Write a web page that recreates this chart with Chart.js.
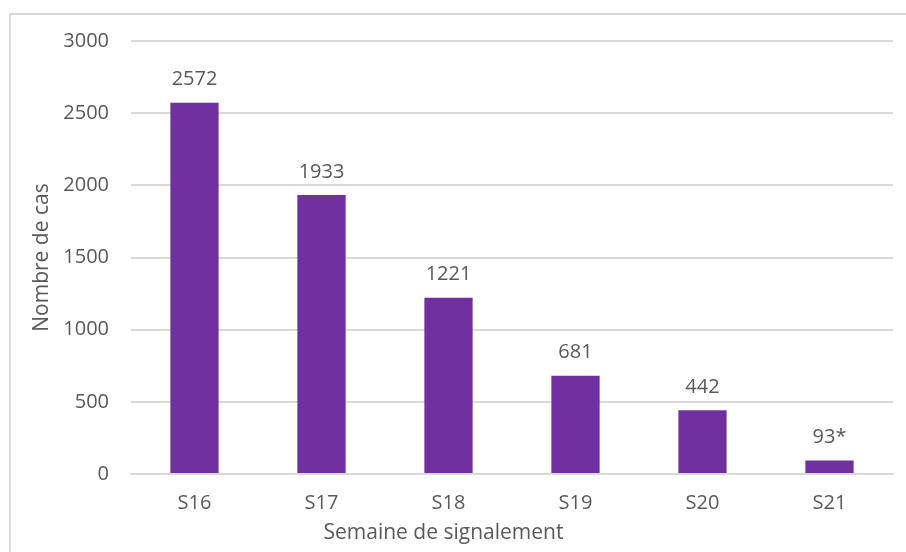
<!DOCTYPE html>
<html lang="fr">
<head>
  <meta charset="UTF-8" />
  <title>Nombre de cas par semaine de signalement</title>
  <script src="https://cdn.jsdelivr.net/npm/chart.js"></script>
  <style>
    html, body {
      margin: 0;
      padding: 0;
      background: #ffffff;
      overflow: hidden;
    }
    #frame {
      position: absolute;
      left: 9px;
      top: 13px;
      width: 940px;
      height: 580px;
      border: 2px solid #d9d9d9;
    }
    #chart-container {
      position: absolute;
      left: 0;
      top: 0;
      width: 906px;
      height: 552px;
    }
  </style>
</head>
<body>
  <div id="frame"></div>
  <div id="chart-container">
    <canvas id="barChart" width="906" height="552"></canvas>
  </div>

  <script>
    // données
    const semaines = ['S16', 'S17', 'S18', 'S19', 'S20', 'S21'];
    const nombreCas = [2572, 1933, 1221, 681, 442, 93];
    const etiquettes = ['2572', '1933', '1221', '681', '442', '93*'];
    const yTicks = [0, 500, 1000, 1500, 2000, 2500, 3000];

    const gris = '#595959';
    const police = "'Open Sans', sans-serif";

    // étiquettes de données au-dessus des barres
    const etiquettesPlugin = {
      id: 'etiquettes',
      afterDatasetsDraw(chart) {
        const ctx = chart.ctx;
        const meta = chart.getDatasetMeta(0);
        ctx.save();
        ctx.font = '20px ' + police;
        ctx.fillStyle = gris;
        ctx.textAlign = 'center';
        ctx.textBaseline = 'middle';
        meta.data.forEach((bar, i) => {
          ctx.fillText(etiquettes[i], bar.x, bar.y - 23);
        });
        ctx.restore();
      }
    };

    // titre de l'axe horizontal (décalé à gauche comme dans l'original)
    const titreXPlugin = {
      id: 'titreX',
      afterDraw(chart) {
        const ctx = chart.ctx;
        const area = chart.chartArea;
        ctx.save();
        ctx.font = '21px ' + police;
        ctx.fillStyle = gris;
        ctx.textAlign = 'center';
        ctx.textBaseline = 'middle';
        ctx.fillText('Semaine de signalement', area.left + (area.right - area.left) * 0.41, 533);
        ctx.restore();
      }
    };

    const ctx = document.getElementById('barChart').getContext('2d');
    const chart = new Chart(ctx, {
      type: 'bar',
      data: {
        labels: semaines,
        datasets: [{
          label: 'Nombre de cas',
          data: nombreCas,
          backgroundColor: '#7030a0',
          borderWidth: 0,
          barPercentage: 0.76,
          categoryPercentage: 0.5
        }]
      },
      options: {
        responsive: false,
        animation: false,
        layout: {
          padding: { left: 25, right: 13, top: 41, bottom: 0 }
        },
        plugins: {
          legend: { display: false },
          tooltip: { enabled: false }
        },
        scales: {
          x: {
            grid: { display: false, drawTicks: false },
            border: { color: '#d9d9d9', width: 2 },
            ticks: {
              color: gris,
              font: { family: police, size: 20 },
              padding: 17
            },
            afterFit(scale) { scale.height = 78; }
          },
          y: {
            min: 0,
            max: 3000,
            afterBuildTicks(scale) {
              scale.ticks = yTicks.map(v => ({ value: v }));
            },
            grid: { color: '#d9d9d9', lineWidth: 2, drawTicks: false },
            border: { display: false },
            ticks: {
              color: gris,
              font: { family: police, size: 20 },
              padding: 22,
              callback: v => String(v)
            },
            title: {
              display: true,
              text: 'Nombre de cas',
              color: gris,
              font: { family: police, size: 21 },
              padding: { top: 4, bottom: 4 }
            },
            afterFit(scale) { scale.width = 106; }
          }
        }
      },
      plugins: [etiquettesPlugin, titreXPlugin]
    });
  </script>
</body>
</html>
